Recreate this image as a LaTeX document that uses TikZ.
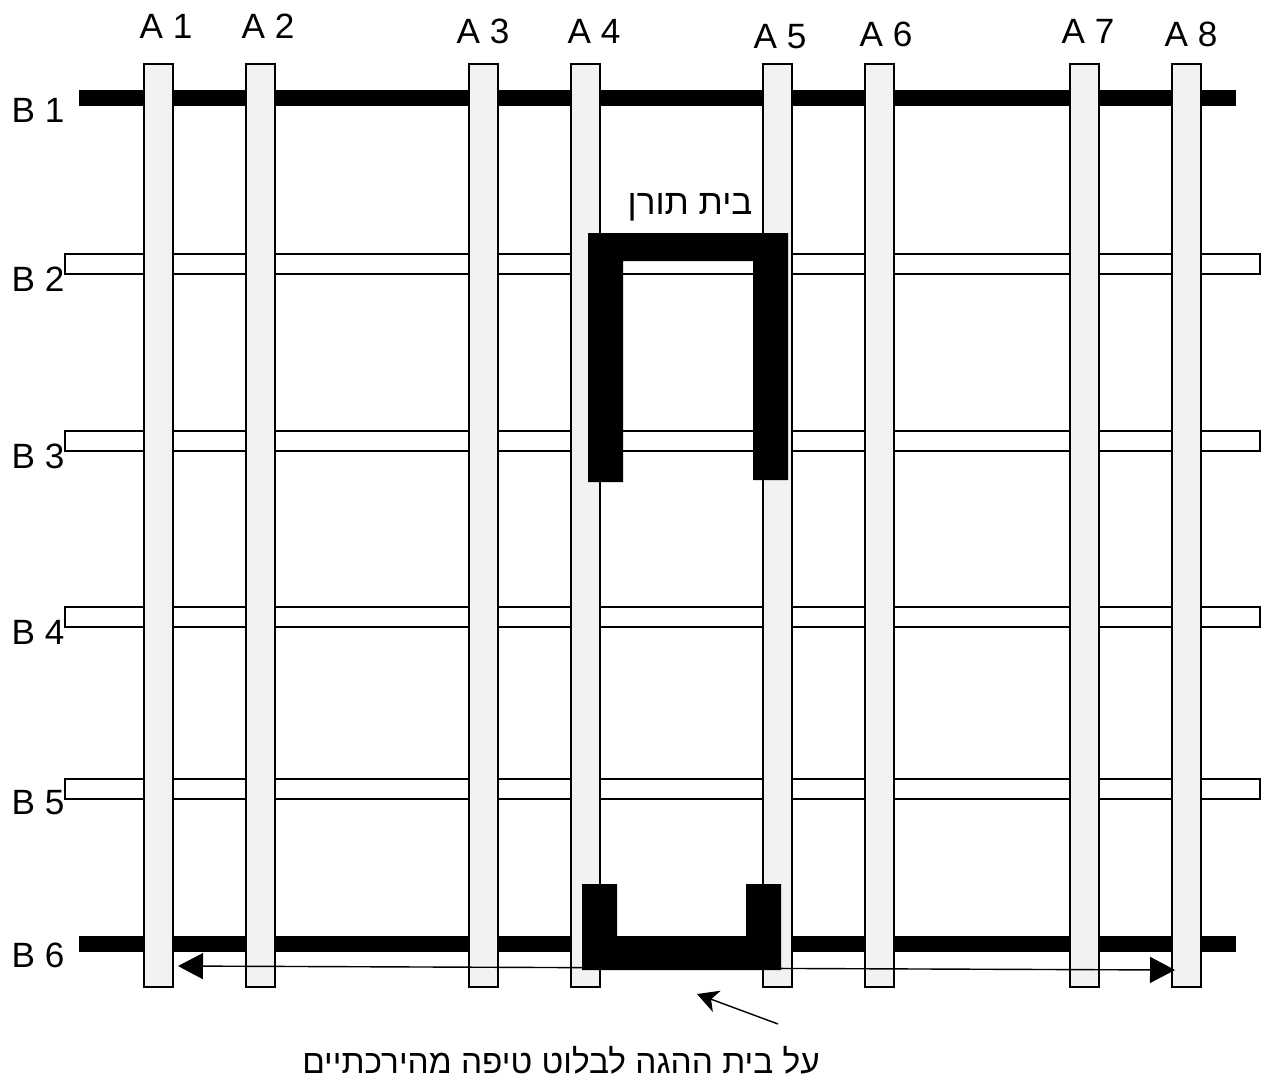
\documentclass[tikz,border=0pt]{standalone}
\usepackage{fontspec}
\setmainfont{Liberation Sans}
\newfontfamily\hebfont[Script=Hebrew]{Liberation Sans}
\TeXXeTstate=1
\usetikzlibrary{arrows.meta}
\definecolor{colgray}{HTML}{F2F2F2}

\begin{document}
\begin{tikzpicture}[x=0.02cm, y=-0.02cm,
  lbl/.style={font=\fontsize{20}{24}\selectfont, inner sep=0pt},
  heb/.style={font=\hebfont\fontsize{20}{24}\selectfont, inner sep=0pt},
  column/.style={draw=black, fill=colgray, line width=1.1pt},
  deck/.style={draw=black, fill=white, line width=1.1pt},
  rail/.style={fill=black},
  house/.style={fill=black},
  span/.style={{Triangle[length=0.5cm, width=0.52cm]}-{Triangle[length=0.5cm, width=0.52cm]}, line width=0.8pt},
  ptr/.style={-{Stealth[length=0.42cm, width=0.45cm, inset=0.12cm]}, line width=0.8pt},
]
  \useasboundingbox (0,0) rectangle (1270,1080);

  % heavy beams B1 and B6
  \fill[rail] (79,90) rectangle (1236,106);
  \fill[rail] (79,936) rectangle (1236,952);

  % light beams B2 - B5
  \foreach \y in {254, 431, 607, 779}
    \draw[deck] (65,\y) rectangle (1260,\y+20);

  % columns A1 - A8
  \foreach \x in {144, 246, 469, 571, 763, 865, 1070, 1172}
    \draw[column] (\x,64) rectangle (\x+29,987);

  % upper house
  \fill[house] (588,233) -- (788,233) -- (788,480) -- (753,480) -- (753,261)
    -- (623,261) -- (623,482) -- (588,482) -- cycle;
  % lower house
  \fill[house] (582,884) -- (617,884) -- (617,936) -- (746,936) -- (746,884)
    -- (781,884) -- (781,970) -- (582,970) -- cycle;

  % labels
  \foreach \i/\x/\y in {1/166/26, 2/268/26, 3/483/31, 4/594/31, 5/780/37, 6/886/34, 7/1088/31, 8/1191/34}
    \node[lbl] (a\i) at (\x,\y) {A \i};
  \foreach \i/\y in {1/110, 2/279, 3/456, 4/632, 5/803, 6/955}
    \node[lbl] (b\i) at (38,\y) {B \i};

  \node[heb] (mast) at (690,207) {\beginR בית תורן\endR};
  \node[heb, font=\hebfont\fontsize{19}{23}\selectfont, anchor=east] (note) at (820,1060)
    {\beginR על בית ההגה לבלוט טיפה מהירכתיים\endR};

  % arrows
  \coordinate (span l) at (178,966);
  \coordinate (span r) at (1175,970);
  \draw[span] (span l) -- (span r);
  \coordinate (ptr tail) at (778,1024);
  \coordinate (ptr tip) at (697,994);
  \draw[ptr] (ptr tail) -- (ptr tip);
\end{tikzpicture}
\end{document}
